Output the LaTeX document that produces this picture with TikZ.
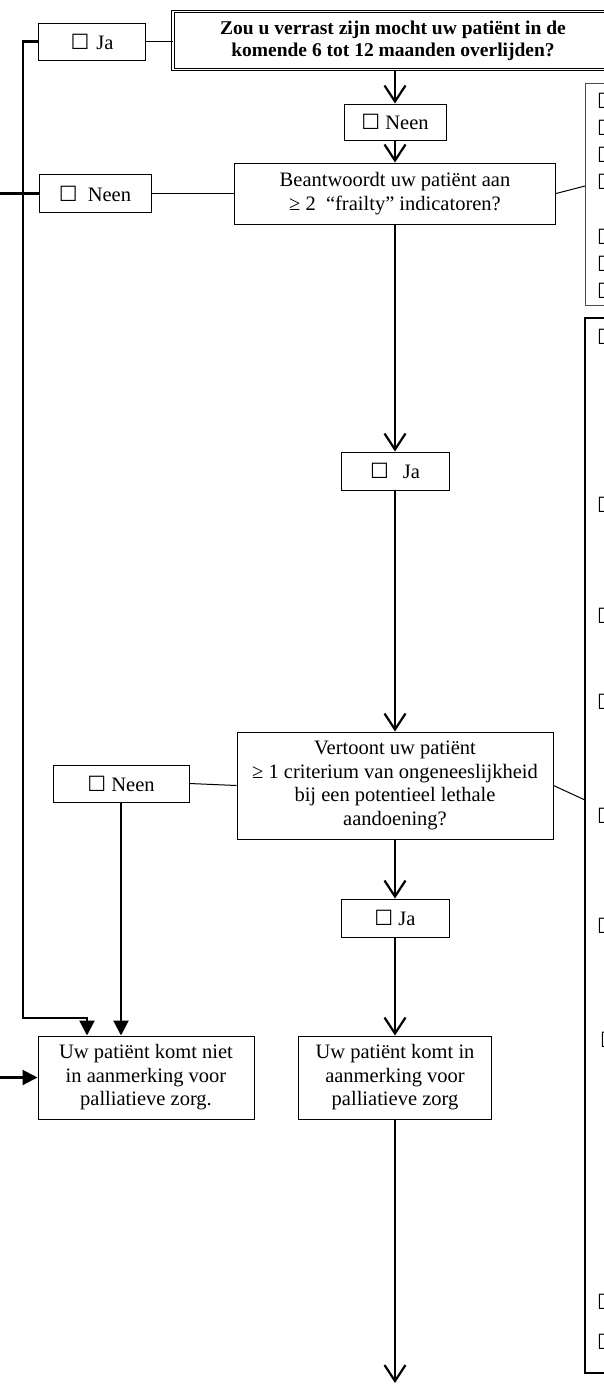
\documentclass[tikz,border=0pt]{standalone}
\usepackage{fontspec}
\setmainfont{Liberation Serif}
\newfontfamily\symfont{DejaVu Sans}
\usetikzlibrary{arrows.meta}
\newcommand{\chk}{{\symfont\fontsize{21}{21}\selectfont ☐}}
\tikzstyle{box}=[draw, line width=1pt, inner sep=0pt, align=center, font=\fontsize{20.5}{23.5}\selectfont]
\tikzstyle{link}=[line width=1pt]
\tikzstyle{flow}=[line width=2.2pt, -{Straight Barb[length=16pt,width=21pt]}]
\tikzstyle{back}=[line width=2.2pt, -{Triangle[length=15pt,width=15pt]}]

\begin{document}
\begin{tikzpicture}[x=1pt, y=-1pt]
\useasboundingbox (0,0) rectangle (604,1384);
\clip (0,0) rectangle (604,1384);

\node[box, double, double distance=1.6pt, line width=0.8pt, minimum width=440pt, minimum height=58pt, font=\bfseries\fontsize{19.5}{22}\selectfont] (vraag) at (393,40.5) {Zou u verrast zijn mocht uw patiënt in de\\komende 6 tot 12 maanden overlijden?};
\node[box, minimum width=107pt, minimum height=37pt] (ja1) at (92,41.5) {\chk\hspace{7pt}Ja};
\node[box, minimum width=102pt, minimum height=36pt] (neen1) at (395,122) {\chk\ Neen};
\node[box, minimum width=321pt, minimum height=61pt] (bean) at (395,193.5) {Beantwoordt uw patiënt aan\\≥ 2 \ “frailty” indicatoren?};
\node[box, minimum width=112pt, minimum height=38pt] (neenL) at (95,193.5) {\chk\hspace{10pt}Neen};
\node[box, minimum width=108pt, minimum height=38pt] (jaM) at (395,471) {\chk\hspace{14pt}Ja};
\node[box, minimum width=316pt, minimum height=107pt] (vert) at (395,785.5) {Vertoont uw patiënt\\≥ 1 criterium van ongeneeslijkheid\\bij een potentieel lethale\\aandoening?};
\node[box, minimum width=136pt, minimum height=37pt] (neen2) at (121,783.5) {\chk\ Neen};
\node[box, minimum width=108pt, minimum height=38pt] (ja2) at (395,918) {\chk\ Ja};
\node[box, minimum width=216pt, minimum height=83pt] (niet) at (146,1077.5) {Uw patiënt komt niet\\in aanmerking voor\\palliatieve zorg.};
\node[box, minimum width=193pt, minimum height=83pt] (komt) at (395,1077.5) {Uw patiënt komt in\\aanmerking voor\\palliatieve zorg};

% lijsten rechts, buiten beeld afgesneden
\draw[line width=0.9pt, black!70] (585,83) rectangle (720,305);
\draw[line width=2.4pt] (585,318) rectangle (720,1373);
\foreach \y in {101,128,155,182,237,264,291,337,505,616,702,816,926,1302,1342} {
	\node[anchor=west, inner sep=0pt] (c\y) at (597,\y) {\chk};
}
\node[anchor=west, inner sep=0pt] (c1040) at (600,1040) {\chk};

\coordinate (fr) at (585,186);
\coordinate (bg) at (585,800);
\coordinate (lt) at (23,41.5);
\coordinate (lb) at (23,1018);
\coordinate (lc) at (87,1018);
\coordinate (inA) at (0,193.5);
\coordinate (inB) at (0,1077.5);
\coordinate (eind) at (395,1383);

\draw[link] (ja1.east) -- (ja1.east -| vraag.west);
\draw[link] (neenL.east) -- (neenL.east -| bean.west);
\draw[link] (bean.east) -- (fr);
\draw[link] (neen2.east) -- (vert.west);
\draw[link] (vert.east) -- (bg);

\draw[flow] (vraag.south -| neen1) -- (neen1.north);
\draw[flow] (neen1) -- (bean);
\draw[flow] (bean) -- (jaM);
\draw[flow] (jaM) -- (vert);
\draw[flow] (vert) -- (ja2);
\draw[flow] (ja2) -- (komt);
\draw[flow] (komt) -- (eind);

\draw[back] (ja1.west) -- (lt) -- (lb) -- (lc) -- (lc |- niet.north);
\draw[back] (neen2.south) -- (neen2.south |- niet.north);
\draw[line width=2.2pt] (inA) -- (neenL.west);
\draw[back] (inB) -- (niet.west);
\end{tikzpicture}
\end{document}
